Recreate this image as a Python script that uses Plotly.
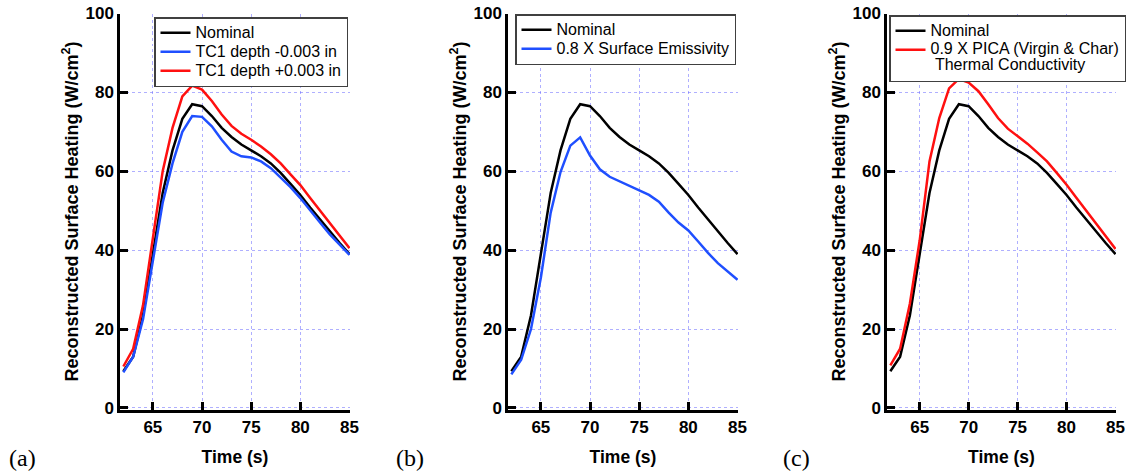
import plotly.graph_objects as go

# ---------------- data ----------------
time_s = list(range(62, 86))

nominal = [9.3, 13.0, 23.5, 38.5, 54.5, 65.3, 73.3, 77.0, 76.5, 74.0, 71.0, 68.7,
           66.8, 65.3, 63.8, 62.0, 59.6, 56.8, 54.0, 50.8, 47.7, 44.7, 41.8, 39.0]

tc1_minus = [9.0, 13.0, 22.5, 37.0, 52.0, 62.0, 70.0, 74.0, 73.8, 71.4, 68.0, 65.0,
             63.8, 63.5, 62.5, 60.8, 58.5, 56.0, 53.2, 50.0, 47.0, 44.0, 41.3, 38.8]

tc1_plus = [10.5, 15.0, 26.0, 43.0, 60.0, 71.0, 79.0, 81.7, 80.7, 77.8, 74.4, 71.5,
            69.5, 68.0, 66.3, 64.3, 62.0, 59.2, 56.5, 53.2, 50.0, 46.8, 43.7, 40.5]

emissivity_08 = [8.5, 12.2, 20.0, 33.0, 49.5, 59.8, 66.5, 68.6, 64.0, 60.5, 58.6, 57.5,
                 56.3, 55.2, 54.0, 52.3, 49.5, 47.0, 45.0, 42.2, 39.3, 36.7, 34.5, 32.5]

conductivity_09 = [10.8, 15.0, 26.5, 42.5, 62.5, 73.5, 81.0, 83.4, 82.5, 80.3, 77.0, 73.5,
                   70.8, 69.0, 67.0, 64.8, 62.5, 59.6, 56.6, 53.3, 50.0, 46.7, 43.5, 40.3]

x_ticks = [65, 70, 75, 80, 85]
y_ticks = [0, 20, 40, 60, 80, 100]
panel_labels = ["(a)", "(b)", "(c)"]

# ---------------- style ----------------
FONT = "Arial, 'Liberation Sans', sans-serif"
BLACK = "#000000"
BLUE = "#1f4fff"
RED = "#ff1010"
GRID = "rgba(110,110,255,0.55)"
LW = 2.5


def leg(txt):
    return '<span style="font-size:16px">' + txt + '</span>'


fig = go.Figure()

panels = [
    ("x", "y", "legend", [("Nominal", nominal, BLACK),
                          ("TC1 depth -0.003 in", tc1_minus, BLUE),
                          ("TC1 depth +0.003 in", tc1_plus, RED)]),
    ("x2", "y2", "legend2", [("Nominal", nominal, BLACK),
                             ("0.8 X Surface Emissivity", emissivity_08, BLUE)]),
    ("x3", "y3", "legend3", [("Nominal", nominal, BLACK),
                             ("0.9 X PICA (Virgin &amp; Char)", conductivity_09, RED)]),
]

for xa, ya, lg, series in panels:
    for name, vals, col in series:
        label = leg(name)
        if lg == "legend3" and col == RED:
            label = leg(name) + "<br>" + leg("\u00a0Thermal Conductivity")
        fig.add_trace(go.Scatter(x=time_s, y=vals, mode="lines", name=label,
                                 line=dict(color=col, width=LW),
                                 xaxis=xa, yaxis=ya, legend=lg))

x_domains = [[120 / 1128, 350 / 1128], [508 / 1128, 738 / 1128], [887 / 1128, 1116 / 1128]]
y_domain = [1 - 409.5 / 473, 1 - 13.5 / 473]

axis_common = dict(
    showline=True, linecolor=BLACK, linewidth=2.5,
    ticks="inside", ticklen=8, tickwidth=2.5, tickcolor=BLACK,
    showgrid=True, gridcolor=GRID, gridwidth=1, griddash="dot",
    zeroline=False, mirror=False,
    tickfont=dict(family=FONT, size=17, color=BLACK, weight="bold"),
)

layout_axes = {}
for i, dom in enumerate(x_domains):
    sfx = "" if i == 0 else str(i + 1)
    layout_axes["xaxis" + sfx] = dict(
        domain=dom, range=[61.66, 85.05], tickvals=x_ticks, anchor="y" + sfx,
        title=dict(text="Time (s)", font=dict(family=FONT, size=17.5, color=BLACK, weight="bold"),
                   standoff=16),
        automargin=False, **axis_common)
    layout_axes["yaxis" + sfx] = dict(
        domain=y_domain, range=[-0.4, 100], tickvals=y_ticks, anchor="x" + sfx,
        title=dict(text="Reconstructed Surface Heating (W/cm<sup>2</sup>)",
                   font=dict(family=FONT, size=18, color=BLACK, weight="bold"), standoff=3),
        automargin=False, **axis_common)

legend_common = dict(
    bgcolor="white", bordercolor="#404040", borderwidth=1.5,
    font=dict(family=FONT, size=12, color=BLACK),
    xanchor="left", yanchor="top", xref="paper", yref="paper",
    valign="top", itemwidth=30, tracegroupgap=0,
)

fig.update_layout(
    width=1128, height=473,
    margin=dict(l=0, r=0, t=0, b=0),
    paper_bgcolor="white", plot_bgcolor="white",
    showlegend=True,
    legend=dict(x=154 / 1128, y=1 - 17 / 473, **legend_common),
    legend2=dict(x=515 / 1128, y=1 - 14 / 473, **legend_common),
    legend3=dict(x=889 / 1128, y=1 - 15 / 473, **legend_common),
    **layout_axes,
)

for lab, xc in zip(panel_labels, [22.5, 410, 796]):
    fig.add_annotation(text=lab, x=xc / 1128, y=1 - 458 / 473, xref="paper", yref="paper",
                       showarrow=False, xanchor="center", yanchor="middle",
                       font=dict(family="'Liberation Serif', 'Times New Roman', serif",
                                 size=24, color=BLACK))

fig.write_html("out.html",
               config={"displayModeBar": False},
               post_script="document.body.style.margin='0';document.body.style.overflow='hidden';")
